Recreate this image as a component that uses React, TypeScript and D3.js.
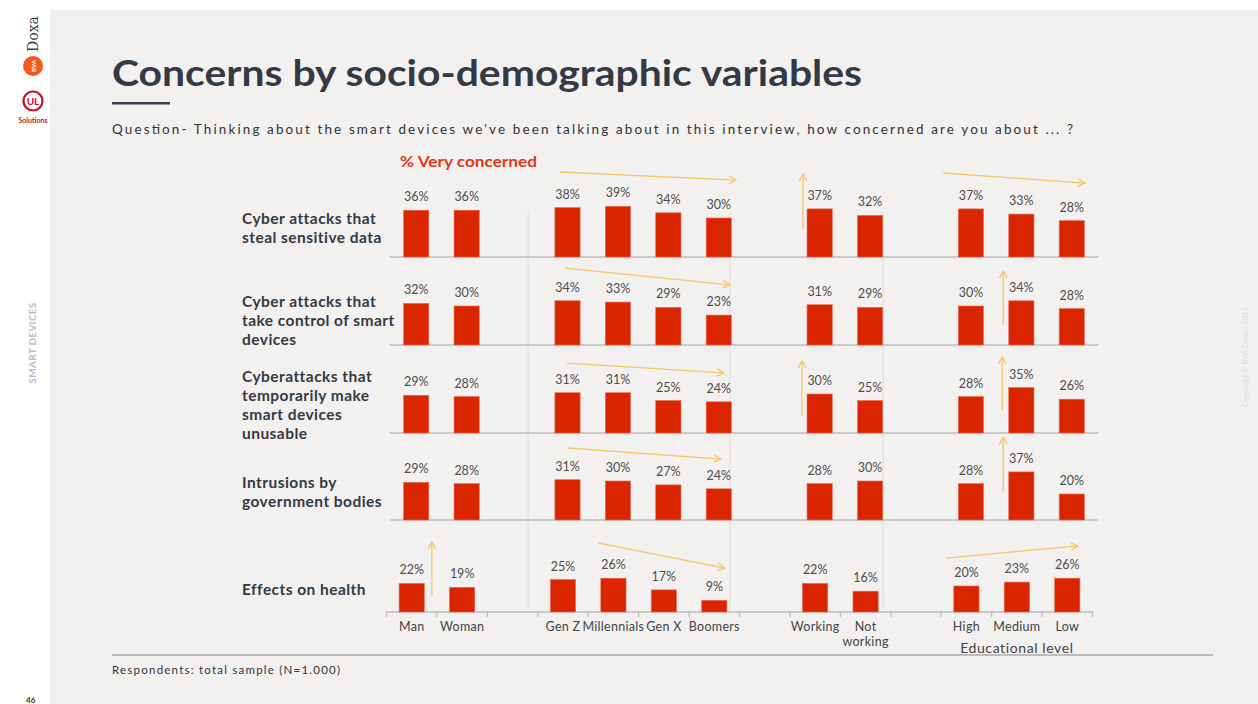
import React from "react";
import * as d3 from "d3";

// ---------- DATA ----------
const slots = ["Man", "Woman", "gap-a", "Gen Z", "Millennials", "Gen X", "Boomers", "gap-b", "Working", "Not working", "gap-c", "High", "Medium", "Low"];
const categories = ["Man", "Woman", "Gen Z", "Millennials", "Gen X", "Boomers", "Working", "Not working", "High", "Medium", "Low"];
const tickLabels = [["Man"], ["Woman"], ["Gen Z"], ["Millennials"], ["Gen X"], ["Boomers"], ["Working"], ["Not", "working"], ["High"], ["Medium"], ["Low"]];

const stealData = [36, 36, 38, 39, 34, 30, 37, 32, 37, 33, 28];
const controlData = [32, 30, 34, 33, 29, 23, 31, 29, 30, 34, 28];
const unusableData = [29, 28, 31, 31, 25, 24, 30, 25, 28, 35, 26];
const governmentData = [29, 28, 31, 30, 27, 24, 28, 30, 28, 37, 20];
const healthData = [22, 19, 25, 26, 17, 9, 22, 16, 20, 23, 26];

const rowSeries = [stealData, controlData, unusableData, governmentData, healthData];
const rowLabels = [
  ["Cyber attacks that", "steal sensitive data"],
  ["Cyber attacks that", "take control of smart", "devices"],
  ["Cyberattacks that", "temporarily make", "smart devices", "unusable"],
  ["Intrusions by", "government bodies"],
  ["Effects on health"],
];

// trend arrows in data units: u = slot position, v = percent on the row's scale
const trendArrows = [
  { row: 0, u1: 3.35, v1: 65.4, u2: 6.84, v2: 59.2 },
  { row: 0, u1: 8.17, v1: 21.5, u2: 8.17, v2: 63.8 },
  { row: 0, u1: 10.95, v1: 64.6, u2: 13.76, v2: 56.9 },
  { row: 1, u1: 3.45, v1: 59.2, u2: 6.72, v2: 46.2 },
  { row: 1, u1: 12.14, v1: 15.4, u2: 12.14, v2: 56.9 },
  { row: 2, u1: 3.49, v1: 53.8, u2: 6.6, v2: 46.2 },
  { row: 2, u1: 8.15, v1: 13.1, u2: 8.15, v2: 55.4 },
  { row: 2, u1: 12.12, v1: 17.7, u2: 12.12, v2: 58.5 },
  { row: 3, u1: 3.51, v1: 55.4, u2: 6.54, v2: 46.9 },
  { row: 3, u1: 12.14, v1: 21.5, u2: 12.14, v2: 63.8 },
  { row: 4, u1: 0.9, v1: 12.3, u2: 0.9, v2: 53.8 },
  { row: 4, u1: 4.19, v1: 53.1, u2: 6.71, v2: 33.8 },
  { row: 4, u1: 11.1, v1: 41.5, u2: 13.71, v2: 50.8 },
];
const separators = [2.72, 6.72, 9.76];

// ---------- LAYOUT ----------
const W = 1258;
const H = 704;
const baselines = [257, 345, 433, 520, 612];
const labelTops = [224, 307, 382, 488, 595];
const rowShift = [0, 0, 0, 0, -4.5];
const FONT = "Lato, 'Open Sans', sans-serif";
const BAR = "#d92600";
const ARROW = "#f6c667";

function Arrow({ x1, y1, x2, y2 }: { x1: number; y1: number; x2: number; y2: number }) {
  const ang = Math.atan2(y2 - y1, x2 - x1);
  const L = 8;
  const a1 = ang + Math.PI - 0.5;
  const a2 = ang + Math.PI + 0.5;
  const d = `M${x2 + L * Math.cos(a1)},${y2 + L * Math.sin(a1)}L${x2},${y2}L${x2 + L * Math.cos(a2)},${y2 + L * Math.sin(a2)}`;
  return (
    <g stroke={ARROW} strokeWidth={1.3} fill="none">
      <line x1={x1} y1={y1} x2={x2} y2={y2} />
      <path d={d} />
    </g>
  );
}

export default function App() {
  const rows = rowSeries.map((series, r) => {
    const base = baselines[r];
    const x0 = 391 + rowShift[r];
    const x = d3.scaleBand<string>().domain(slots).range([x0, x0 + 706]).paddingInner(0.5).paddingOuter(0.25);
    const u = d3.scaleLinear().domain([0, 14]).range([x0, x0 + 706]);
    const y = d3.scaleLinear().domain([0, 100]).range([base, base - 130]);
    return { series, base, x, u, y };
  });

  const last = rows[4];

  return (
    <svg width={W} height={H} style={{ position: "absolute", left: 0, top: 0 }} fontFamily={FONT}>
      <rect x={0} y={0} width={W} height={H} fill="#ffffff" />
      <rect x={50} y={10} width={W - 50} height={H - 10} fill="#f2f1ef" />

      {/* logos */}
      <text transform="translate(38,52) rotate(-90)" fontSize={14} fontFamily="'DejaVu Serif', serif" fill="#444">Doxa</text>
      <circle cx={33} cy={66} r={10} fill="#f05a1e" />
      <text transform="translate(36,66) rotate(-90)" textAnchor="middle" fontSize={6} fill="#fff" fontWeight={700}>BVA</text>
      <circle cx={33} cy={101} r={9.5} fill="none" stroke="#c8102e" strokeWidth={2.2} />
      <text x={33} y={105} textAnchor="middle" fontSize={10} fontWeight={700} fill="#c8102e">UL</text>
      <text x={33} y={123} textAnchor="middle" fontSize={7} fontWeight={700} fill="#c8102e">Solutions</text>

      {/* side texts */}
      <text transform="translate(36,343) rotate(-90)" textAnchor="middle" fontSize={10} fontWeight={700} fill="#b7becb" letterSpacing={0.3}>SMART DEVICES</text>
      <text transform="translate(1248,357) rotate(-90)" textAnchor="middle" fontSize={7.5} fill="#dcdcdc">Copyright © BVA Doxa - 2021</text>

      {/* title */}
      <text x={112} y={86} fontSize={36} fontWeight={700} fill="#343a45" textLength={750} lengthAdjust="spacingAndGlyphs">Concerns by socio-demographic variables</text>
      <rect x={112} y={102} width={58} height={2.5} fill="#3a4250" />
      <text x={112} y={134} fontSize={13.5} fill="#333" textLength={961} lengthAdjust="spacing">Question- Thinking about the smart devices we've been talking about in this interview, how concerned are you about ... ?</text>
      <text x={400} y={167} fontSize={14.5} fontWeight={700} fill="#e2371c" textLength={137} lengthAdjust="spacingAndGlyphs">% Very concerned</text>

      {/* separators */}
      {separators.map((s, i) => (
        <line key={i} x1={rows[0].u(s)} x2={rows[0].u(s)} y1={212} y2={608} stroke="#dedcda" strokeWidth={1} />
      ))}

      {rows.map((row, r) => (
        <g key={r}>
          {rowLabels[r].map((t, i) => (
            <text key={i} x={242} y={labelTops[r] + i * 19} fontSize={15.5} letterSpacing={0.45} fontWeight={700} fill="#343a45">{t}</text>
          ))}
          <line x1={row.u(0) - 1} x2={row.u(14) + 1} y1={row.base} y2={row.base} stroke="#bdbdbd" strokeWidth={1.5} />
          {row.series.map((v, i) => {
            const xb = row.x(categories[i])!;
            return (
              <g key={i}>
                <rect x={xb} y={row.y(v)} width={row.x.bandwidth()} height={row.base - row.y(v)} fill={BAR} stroke="#ec6a50" strokeWidth={0.6} />
                <text x={xb + row.x.bandwidth() / 2} y={row.y(v) - 9} textAnchor="middle" fontSize={12.5} fill="#4d4d4d">{v}%</text>
              </g>
            );
          })}
        </g>
      ))}

      {/* bottom axis ticks and labels */}
      {d3.range(15).map((k) => (
        <line key={k} x1={last.u(k)} x2={last.u(k)} y1={last.base} y2={last.base + 5} stroke="#bdbdbd" strokeWidth={1.2} />
      ))}
      {tickLabels.map((lines, i) => {
        const cx = last.x(categories[i])! + last.x.bandwidth() / 2;
        return (
          <text key={i} x={cx} y={631} textAnchor="middle" fontSize={12.5} letterSpacing={0.3} fill="#444">
            {lines.map((l, j) => (
              <tspan key={j} x={cx} dy={j === 0 ? 0 : 15}>{l}</tspan>
            ))}
          </text>
        );
      })}
      <text x={last.x("Medium")! + last.x.bandwidth() / 2} y={653} textAnchor="middle" fontSize={14} letterSpacing={0.6} fill="#444">Educational level</text>

      {/* trend arrows */}
      {trendArrows.map((a, i) => {
        const row = rows[a.row];
        return <Arrow key={i} x1={row.u(a.u1)} y1={row.y(a.v1)} x2={row.u(a.u2)} y2={row.y(a.v2)} />;
      })}

      {/* footer */}
      <line x1={112} x2={1213} y1={655} y2={655} stroke="#8a8a8a" strokeWidth={1.2} />
      <text x={112} y={674} fontSize={11.5} fill="#333" textLength={228} lengthAdjust="spacing">Respondents: total sample (N=1.000)</text>
      <text x={26} y={703} fontSize={8} fontWeight={700} fill="#333">46</text>
    </svg>
  );
}
